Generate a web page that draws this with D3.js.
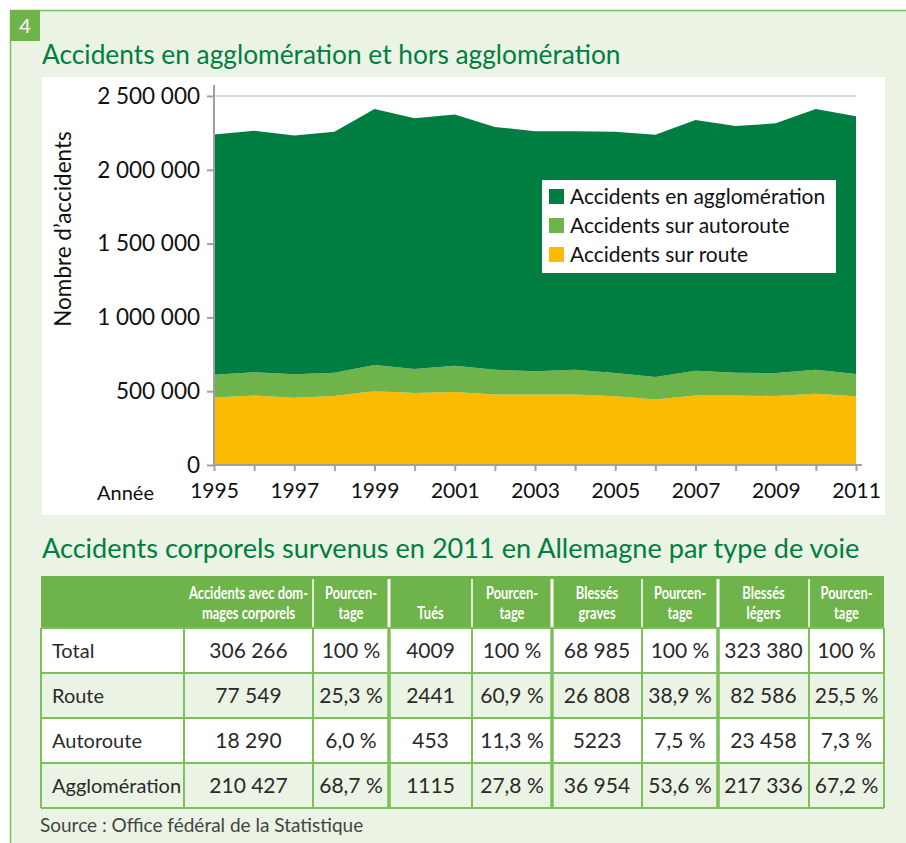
<!DOCTYPE html>
<html>
<head>
<meta charset="utf-8">
<script src="https://cdn.jsdelivr.net/npm/d3@7/dist/d3.min.js"></script>
<style>
  body { margin: 0; background: #fff; }
  svg { display: block; }
</style>
</head>
<body>
<div id="chart"></div>
<script>
// chart data
var years = [1995,1996,1997,1998,1999,2000,2001,2002,2003,2004,2005,2006,2007,2008,2009,2010,2011];
var route = [458000,471000,456000,467000,501000,487000,494000,478000,478000,478000,465000,444000,471000,471000,467000,483000,465000];
var autoroute = [154000,157000,158000,158000,176000,163000,179000,168000,158000,168000,158000,152000,168000,154000,156000,163000,151000];
var agglo = [1628000,1637000,1618000,1633000,1735000,1700000,1702000,1644000,1626000,1616000,1635000,1642000,1698000,1671000,1692000,1766000,1746000];
var seriesNames = ["Accidents en agglomération", "Accidents sur autoroute", "Accidents sur route"];
var yTicks = [0, 500000, 1000000, 1500000, 2000000, 2500000];
var xTicks = [1995,1997,1999,2001,2003,2005,2007,2009,2011];

// table data
var rowNames = ["Total", "Route", "Autoroute", "Agglomération"];
var headers = [["",""],["Accidents avec dom-","mages corporels"],["Pourcen-","tage"],["","Tués"],["Pourcen-","tage"],
               ["Blessés","graves"],["Pourcen-","tage"],["Blessés","légers"],["Pourcen-","tage"]];
var accCorp = [306266, 77549, 18290, 210427];
var accPct = [100, 25.3, 6.0, 68.7];
var tues = [4009, 2441, 453, 1115];
var tuesPct = [100, 60.9, 11.3, 27.8];
var graves = [68985, 26808, 5223, 36954];
var gravesPct = [100, 38.9, 7.5, 53.6];
var legers = [323380, 82586, 23458, 217336];
var legersPct = [100, 25.5, 7.3, 67.2];

var darkGreen = "#007e41", midGreen = "#6fb34b", yellow = "#fabb00", paleGreen = "#ebf3e4";
var font = "Lato, 'Noto Sans', sans-serif";

var fr = d3.formatLocale({decimal: ",", thousands: "\u00a0", grouping: [3], currency: ["", ""]});
function fmtNum(v) { return v >= 10000 ? fr.format(",")(v) : String(v); }
function fmtPct(v) { return (v == 100 ? "100" : fr.format(".1f")(v)) + "\u00a0%"; }

var svg = d3.select("#chart").append("svg").attr("width", 906).attr("height", 843);

// panel
svg.append("rect").attr("x", 10).attr("y", 10).attr("width", 896).attr("height", 833).style("fill", paleGreen);
svg.append("line").attr("x1", 10).attr("x2", 906).attr("y1", 10.5).attr("y2", 10.5).style("stroke", "#7cc05a").style("stroke-width", 1.5);
svg.append("line").attr("x1", 10.5).attr("x2", 10.5).attr("y1", 10).attr("y2", 843).style("stroke", "#7cc05a").style("stroke-width", 1.5);
svg.append("rect").attr("x", 10).attr("y", 10).attr("width", 30).attr("height", 31).style("fill", midGreen);
svg.append("text").attr("x", 25).attr("y", 33).attr("text-anchor", "middle")
    .style("font-family", font).style("font-size", "20px").style("fill", "#fff").text("4");

svg.append("text").attr("x", 42).attr("y", 64)
    .style("font-family", font).style("font-size", "26.3px").style("fill", darkGreen)
    .text("Accidents en agglomération et hors agglomération");

// chart area
svg.append("rect").attr("x", 42).attr("y", 77).attr("width", 843).attr("height", 438).style("fill", "#fff");

var x = d3.scaleLinear().domain([1995, 2011]).range([214, 856]);
var y = d3.scaleLinear().domain([0, 2500000]).range([465, 96]);

var table = years.map(function(yr, i) {
    return {year: yr, route: route[i], autoroute: autoroute[i], agglo: agglo[i]};
});
var stack = d3.stack().keys(["route", "autoroute", "agglo"]);
var layers = stack(table);
var color = d3.scaleOrdinal().domain(["route", "autoroute", "agglo"]).range([yellow, midGreen, darkGreen]);

// grid
svg.selectAll("grid").data(yTicks.slice(1)).enter().append("line")
    .attr("x1", x(1995)).attr("x2", x(2011))
    .attr("y1", function(d) { return y(d); }).attr("y2", function(d) { return y(d); })
    .style("stroke", "#d0d0d0").style("stroke-width", 1.5);

var area = d3.area()
    .x(function(d) { return x(d.data.year); })
    .y0(function(d) { return y(d[0]); })
    .y1(function(d) { return y(d[1]); });

svg.selectAll("layer").data(layers).enter().append("path")
    .attr("d", area)
    .style("fill", function(d) { return color(d.key); });

// axes
var yAxis = svg.append("g").attr("transform", "translate(214,0)")
    .call(d3.axisLeft(y).tickValues(yTicks).tickSize(7).tickPadding(7).tickFormat(fr.format(",")));
yAxis.select(".domain").attr("d", "M0,85V465");
yAxis.selectAll(".tick text").style("font-size", "22.5px");
var xAxis = svg.append("g").attr("transform", "translate(0,465)")
    .call(d3.axisBottom(x).tickValues(years).tickSize(6).tickFormat(function(d) {
        return xTicks.indexOf(d) >= 0 ? d : "";
    }).tickPadding(12));
xAxis.select(".domain").attr("d", "M214,0H862");
xAxis.selectAll(".tick text").style("font-size", "21px");
svg.selectAll(".domain, .tick line").style("stroke", "#a0a0a0").style("stroke-width", 2);
svg.selectAll(".tick text").style("font-family", font).style("fill", "#111");

svg.append("text").attr("x", 97).attr("y", 500)
    .style("font-family", font).style("font-size", "20px").style("fill", "#111").text("Année");
svg.append("text").attr("transform", "translate(71,229) rotate(-90)").attr("text-anchor", "middle")
    .style("font-family", font).style("font-size", "22.5px").style("fill", "#111").text("Nombre d\u2019accidents");

// legend
svg.append("rect").attr("x", 542).attr("y", 180).attr("width", 294).attr("height", 93).style("fill", "#fff");
var legendKeys = ["agglo", "autoroute", "route"];
svg.selectAll("legsq").data(legendKeys).enter().append("rect")
    .attr("x", 549).attr("y", function(d, i) { return 189 + i * 29; })
    .attr("width", 15).attr("height", 15)
    .style("fill", function(d) { return color(d); });
svg.selectAll("legtxt").data(seriesNames).enter().append("text")
    .attr("x", 570).attr("y", function(d, i) { return 204 + i * 29; })
    .style("font-family", font).style("font-size", "21px").style("fill", "#111")
    .text(function(d) { return d; });

// second title
svg.append("text").attr("x", 42).attr("y", 558)
    .style("font-family", font).style("font-size", "27.1px").style("fill", darkGreen)
    .text("Accidents corporels survenus en 2011 en Allemagne par type de voie");

// table
var colEdges = [41, 184, 313, 389, 472, 552, 642, 718, 809, 884];
var thick = [389, 552, 718];
var headTop = 576, headBot = 628, rowH = 45;
var cols = [accCorp.map(fmtNum), accPct.map(fmtPct), tues.map(fmtNum), tuesPct.map(fmtPct),
            graves.map(fmtNum), gravesPct.map(fmtPct), legers.map(fmtNum), legersPct.map(fmtPct)];

svg.append("rect").attr("x", 41).attr("y", headTop).attr("width", 843).attr("height", headBot - headTop).style("fill", midGreen);
rowNames.forEach(function(r, i) {
    svg.append("rect").attr("x", 41).attr("y", headBot + i * rowH).attr("width", 843).attr("height", rowH)
        .style("fill", i % 2 == 0 ? "#fff" : paleGreen);
});
// header separators
colEdges.slice(2, 9).forEach(function(cx) {
    svg.append("line").attr("x1", cx).attr("x2", cx).attr("y1", headTop + 3).attr("y2", headBot)
        .style("stroke", "#fff").style("stroke-width", thick.indexOf(cx) >= 0 ? 3 : 1.5);
});
// body grid
colEdges.forEach(function(cx) {
    svg.append("line").attr("x1", cx).attr("x2", cx).attr("y1", headBot).attr("y2", headBot + 4 * rowH)
        .style("stroke", "#7dbf5b").style("stroke-width", thick.indexOf(cx) >= 0 ? 3.5 : 2);
});
d3.range(5).forEach(function(i) {
    svg.append("line").attr("x1", 41).attr("x2", 884).attr("y1", headBot + i * rowH).attr("y2", headBot + i * rowH)
        .style("stroke", "#7dbf5b").style("stroke-width", 2);
});

// header labels: bold, squeezed horizontally to look condensed
headers.forEach(function(h, c) {
    var cx = (colEdges[c] + colEdges[c + 1]) / 2;
    h.forEach(function(line, k) {
        svg.append("text")
            .attr("transform", "translate(" + cx + "," + (599 + k * 20) + ") scale(0.76,1)")
            .attr("text-anchor", "middle")
            .style("font-family", font).style("font-weight", "bold").style("font-size", "17px")
            .style("fill", "#fff").text(line);
    });
});

rowNames.forEach(function(r, i) {
    var ty = headBot + i * rowH + 30;
    svg.append("text").attr("x", 52).attr("y", ty)
        .style("font-family", font).style("font-size", "20px").style("fill", "#2a2a2a").text(r);
    cols.forEach(function(col, c) {
        svg.append("text").attr("x", (colEdges[c + 1] + colEdges[c + 2]) / 2).attr("y", ty)
            .attr("text-anchor", "middle")
            .style("font-family", font).style("font-size", "21px").style("fill", "#2a2a2a").text(col[i]);
    });
});

svg.append("text").attr("x", 40).attr("y", 832)
    .style("font-family", font).style("font-size", "19px").style("fill", "#444")
    .text("Source : Office fédéral de la Statistique");
</script>
</body>
</html>
